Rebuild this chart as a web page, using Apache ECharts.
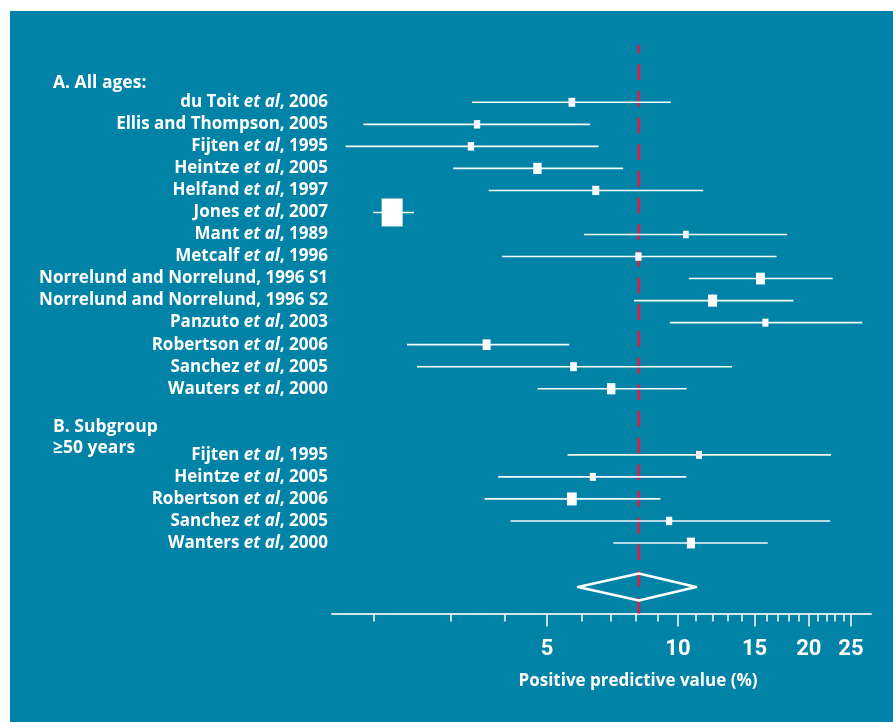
<!DOCTYPE html>
<html>
<head>
<meta charset="utf-8">
<script src="https://cdn.jsdelivr.net/npm/echarts@6/dist/echarts.min.js"></script>
<style>
  html, body { margin: 0; padding: 0; background: #ffffff; }
  #panel { position: absolute; left: 10px; top: 11px; width: 883px; height: 711px; background: #0083a7; }
  #chart { position: absolute; left: 0; top: 0; width: 893px; height: 722px; }
</style>
</head>
<body>
<div id="panel"></div>
<div id="chart"></div>
<script>
// ---------- data ----------
const studiesA = ["du Toit et al, 2006", "Ellis and Thompson, 2005", "Fijten et al, 1995", "Heintze et al, 2005",
  "Helfand et al, 1997", "Jones et al, 2007", "Mant et al, 1989", "Metcalf et al, 1996",
  "Norrelund and Norrelund, 1996 S1", "Norrelund and Norrelund, 1996 S2", "Panzuto et al, 2003",
  "Robertson et al, 2006", "Sanchez et al, 2005", "Wauters et al, 2000"];
const ppvA   = [5.70, 3.45, 3.34, 4.75, 6.47, 2.20, 10.43, 8.11, 15.48, 12.01, 15.89, 3.63, 5.75, 7.02];
const lowerA = [3.36, 1.89, 1.72, 3.04, 3.67, 1.99, 6.08, 3.94, 10.59, 7.92, 9.58, 2.38, 2.51, 4.75];
const upperA = [9.63, 6.28, 6.57, 7.48, 11.43, 2.47, 17.82, 16.86, 22.7, 18.43, 26.55, 5.62, 13.31, 10.47];
const weightA = [45, 40, 40, 70, 49, 441, 32, 40, 78, 83, 36, 64, 45, 70];

const studiesB = ["Fijten et al, 1995", "Heintze et al, 2005", "Robertson et al, 2006", "Sanchez et al, 2005", "Wanters et al, 2000"];
const ppvB   = [11.18, 6.37, 5.70, 9.54, 10.71];
const lowerB = [5.57, 3.86, 3.59, 4.12, 7.10];
const upperB = [22.5, 10.45, 9.11, 22.4, 16.09];
const weightB = [36, 36, 96, 40, 66];

const pooled = [5.89, 8.13, 11.01]; // lower, estimate, upper

const minorTicks = [2, 3, 4, 5, 6, 7, 8, 9, 10, 11, 12, 13, 14, 15, 16, 17, 18, 19, 20, 21, 22, 23, 24, 25];
const majorTicks = [5, 10, 15, 20, 25];

const headerA = "A. All ages:";
const headerB1 = "B. Subgroup";
const headerB2 = "\u226550 years";
const xTitle = "Positive predictive value (%)";

// ---------- build ----------
const rowGapB = 16;   // first row of subgroup B
const rowPooled = 22; // pooled diamond row
const rowNames = {};
const studyData = [];
studiesA.forEach((n, i) => { rowNames[i] = n; studyData.push([lowerA[i], ppvA[i], upperA[i], i, weightA[i]]); });
studiesB.forEach((n, j) => { rowNames[rowGapB + j] = n; studyData.push([lowerB[j], ppvB[j], upperB[j], rowGapB + j, weightB[j]]); });
const labelRows = Object.keys(rowNames).map(Number);

const LABEL_FONT = "'Open Sans', Roboto, sans-serif";
const NUM_FONT = "Roboto, sans-serif";

function labelFormatter(v) {
  const name = rowNames[Math.round(v)];
  if (!name) return '';
  const parts = name.split('et al');
  if (parts.length === 1) return '{n|' + name + '}';
  return '{n|' + parts[0] + '}{i|et al}{n|' + parts[1] + '}';
}

const chart = echarts.init(document.getElementById('chart'), null, { renderer: 'canvas' });

const xMin = 1.6, xMax = 27.8;
const option = {
  backgroundColor: 'transparent',
  animation: false,
  grid: { left: 332, right: 22, top: 45, height: 568.5, containLabel: false },
  xAxis: [
    {
      type: 'log', min: xMin, max: xMax, position: 'bottom',
      axisLine: { show: true, onZero: false, lineStyle: { color: '#d4e6ec', width: 2 } },
      axisTick: { show: true, customValues: minorTicks, length: 8, lineStyle: { color: '#ffffff', width: 1.5 } },
      axisLabel: { show: false },
      splitLine: { show: false }, minorTick: { show: false }
    },
    {
      type: 'log', min: xMin, max: xMax, position: 'bottom',
      axisLine: { show: false, onZero: false },
      axisTick: { show: true, customValues: majorTicks, length: 13, lineStyle: { color: '#ffffff', width: 1.5 } },
      axisLabel: {
        show: true, customValues: majorTicks, margin: 25,
        color: '#ffffff', fontSize: 22, fontWeight: 'bold', fontFamily: NUM_FONT,
        formatter: v => String(Math.round(v))
      },
      splitLine: { show: false }
    }
  ],
  yAxis: {
    type: 'value', inverse: true, min: -2.6, max: 23.2,
    axisLine: { show: false }, axisTick: { show: false }, splitLine: { show: false },
    axisLabel: {
      show: true, customValues: labelRows, margin: 4, align: 'right',
      formatter: labelFormatter,
      rich: {
        n: { color: '#ffffff', fontSize: 17, fontWeight: 'bold', fontFamily: LABEL_FONT },
        i: { color: '#ffffff', fontSize: 17, fontWeight: 'bold', fontStyle: 'italic', fontFamily: LABEL_FONT }
      }
    }
  },
  graphic: [
    { type: 'text', x: 53, y: 83, style: { text: headerA, fill: '#fff', font: "bold 17.5px " + LABEL_FONT, textVerticalAlign: 'middle' } },
    { type: 'text', x: 53, y: 427, style: { text: headerB1, fill: '#fff', font: "bold 17.5px " + LABEL_FONT, textVerticalAlign: 'middle' } },
    { type: 'text', x: 53, y: 448, style: { text: headerB2, fill: '#fff', font: "bold 17.5px " + LABEL_FONT, textVerticalAlign: 'middle' } },
    { type: 'text', x: 638, y: 681, style: { text: xTitle, fill: '#fff', font: "bold 17px " + LABEL_FONT, textAlign: 'center', textVerticalAlign: 'middle' } }
  ],
  series: [
    {
      // pooled reference line (dashed red)
      type: 'custom', xAxisIndex: 0, z: 1,
      data: [[pooled[1]]],
      encode: { x: 0 },
      renderItem: function (params, api) {
        const cs = params.coordSys;
        const p = api.coord([api.value(0), 0]);
        return {
          type: 'line',
          shape: { x1: p[0], y1: cs.y, x2: p[0], y2: cs.y + cs.height },
          style: { stroke: '#d81e4b', lineWidth: 2.7, lineDash: [15.67, 11], lineDashOffset: 7.33 }
        };
      }
    },
    {
      type: 'custom', xAxisIndex: 0, z: 3,
      data: studyData,
      encode: { x: [0, 1, 2], y: 3 },
      renderItem: function (params, api) {
        const lo = api.coord([api.value(0), api.value(3)]);
        const hi = api.coord([api.value(2), api.value(3)]);
        const c = api.coord([api.value(1), api.value(3)]);
        const bw = Math.sqrt(api.value(4));
        const bh = bw * 1.33;
        return {
          type: 'group',
          children: [
            { type: 'line', shape: { x1: lo[0], y1: lo[1], x2: hi[0], y2: hi[1] }, style: { stroke: '#f4f9fb', lineWidth: 1.6 } },
            { type: 'rect', shape: { x: c[0] - bw / 2, y: c[1] - bh / 2, width: bw, height: bh }, style: { fill: '#ffffff' } }
          ]
        };
      }
    },
    {
      type: 'custom', xAxisIndex: 0, z: 3,
      data: [[pooled[0], pooled[1], pooled[2], rowPooled]],
      encode: { x: [0, 1, 2], y: 3 },
      renderItem: function (params, api) {
        const r = api.value(3);
        const l = api.coord([api.value(0), r]);
        const m = api.coord([api.value(1), r]);
        const h = api.coord([api.value(2), r]);
        const half = 13.5;
        return {
          type: 'polygon',
          shape: { points: [[l[0], l[1]], [m[0], m[1] - half], [h[0], h[1]], [m[0], m[1] + half]] },
          style: { fill: 'none', stroke: '#ffffff', lineWidth: 2.5, lineJoin: 'round' }
        };
      }
    }
  ]
};
chart.setOption(option);
</script>
</body>
</html>
